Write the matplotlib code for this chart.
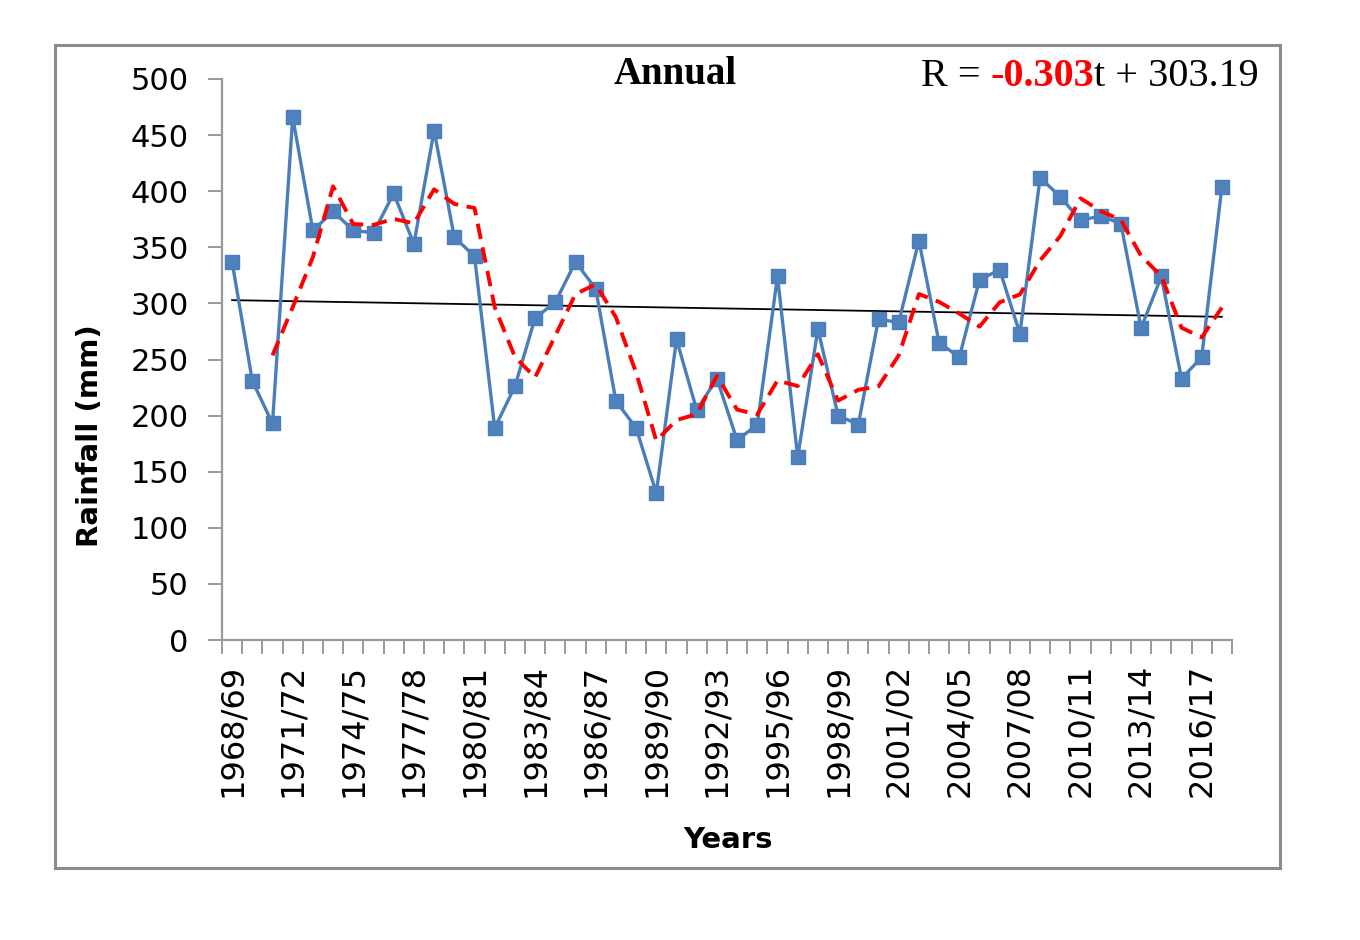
import numpy as np
import pandas as pd
import matplotlib
matplotlib.use("Agg")
import matplotlib.pyplot as plt
from matplotlib.patches import Rectangle

# ---- data ----
start_years = list(range(1968, 2018))
years = [f"{y}/{str(y + 1)[-2:]}" for y in start_years]
rainfall = [337, 231, 193, 466, 365, 382, 365, 363, 398, 353,
            454, 359, 342, 189, 226, 287, 301, 337, 313, 213,
            189, 131, 268, 205, 233, 178, 192, 324, 163, 277,
            200, 192, 286, 283, 356, 265, 252, 321, 330, 273,
            412, 395, 374, 378, 371, 278, 324, 233, 252, 404]
trend_slope = -0.303
trend_intercept = 303.19
ma_period = 3
y_ticks = [0, 50, 100, 150, 200, 250, 300, 350, 400, 450, 500]

x = np.arange(len(rainfall))
moving_avg = pd.Series(rainfall).rolling(ma_period).mean()
trend = trend_slope * (x + 1) + trend_intercept

W, H = 1360, 940
fig = plt.figure(figsize=(W / 100, H / 100), dpi=100)
fig.patch.set_facecolor("white")

# outer border
fig.patches.append(Rectangle((55 / W, 1 - 868 / H), 1225 / W, 823 / H,
                             transform=fig.transFigure, fill=False,
                             edgecolor="#8c8c8c", linewidth=2.2))

ax = fig.add_axes([222 / W, 1 - 640 / H, 1010 / W, 561 / H])

ax.plot(x, rainfall, color="#4a7ebb", linewidth=2.4, marker="s",
        markersize=10, markerfacecolor="#4f81bd", markeredgecolor="#4a7ebb",
        zorder=3)
ax.plot(x, moving_avg, color="#ff0000", linewidth=2.8, linestyle=(0, (4, 2.2)),
        zorder=4)
ax.plot(x, trend, color="black", linewidth=1.3, zorder=2)

ax.set_xlim(-0.5, len(rainfall) - 0.5)
ax.set_ylim(0, 500)

for s in ["top", "right"]:
    ax.spines[s].set_visible(False)
for s in ["left", "bottom"]:
    ax.spines[s].set_color("#9a9a9a")
    ax.spines[s].set_linewidth(1.6)

ax.set_yticks(y_ticks)
ax.set_yticklabels([str(v) for v in y_ticks], fontsize=22, family="DejaVu Sans")
ax.tick_params(axis="y", direction="out", length=10, width=1.4,
               color="#9a9a9a", pad=14)

ax.set_xticks(x[::3])
ax.set_xticklabels(years[::3], rotation=90, fontsize=23, family="DejaVu Sans")
ax.set_xticks(np.arange(len(rainfall) + 1) - 0.5, minor=True)
ax.tick_params(axis="x", which="major", length=0, pad=17)
ax.tick_params(axis="x", which="minor", direction="out", length=10,
               width=1.4, color="#9a9a9a")

fig.text(90 / W, 1 - 436 / H, "Rainfall (mm)", rotation=90, ha="center",
         va="center", fontsize=21, fontweight="bold", family="DejaVu Sans")
fig.text(728 / W, 1 - 840 / H, "Years", ha="center", va="center",
         fontsize=21, fontweight="bold", family="DejaVu Sans")

fig.text(675 / W, 1 - 74 / H, "Annual", ha="center", va="center",
         fontsize=28, fontweight="bold", family="Liberation Serif")

serif = "Liberation Serif"
t1 = fig.text(921 / W, 1 - 95 / H, "R = ", ha="left", va="bottom",
              fontsize=29, family=serif)
t2 = ax.annotate("-0.303", xy=(1, 0), xycoords=t1, ha="left", va="bottom",
                 fontsize=29, family=serif, fontweight="bold", color="#ff0000")
t3 = ax.annotate("t + 303.19", xy=(1, 0), xycoords=t2, ha="left", va="bottom",
                 fontsize=29, family=serif)

fig.savefig("out.png", dpi=100, facecolor="white")
